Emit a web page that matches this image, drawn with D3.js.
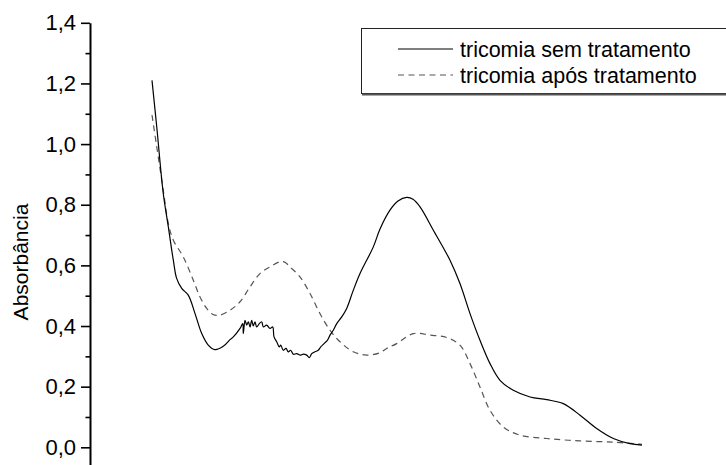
<!DOCTYPE html>
<html>
<head>
<meta charset="utf-8">
<script src="https://cdn.jsdelivr.net/npm/d3@7/dist/d3.min.js"></script>
<style>
  html, body { margin: 0; padding: 0; background: #fff; }
  svg { display: block; font-family: "Liberation Sans", Arial, sans-serif; }
</style>
</head>
<body>
<svg id="chart" width="726" height="465"></svg>
<script>
// Wavelength (nm) and absorbance for the untreated trichome extract
const untreatedNm = [200, 205.8, 213.8, 220.0, 226.1, 230.2, 236.4, 244.4, 252.7, 260.9, 268.9, 277.1, 287.3, 295.5, 299.6,
  307.8, 311.1, 311.8, 313.9, 316.0, 318.0, 320.0, 322.1, 324.0, 326.1, 328.2, 331.4, 334.3, 336.3, 340.4, 344.5, 347.8,
  349.4, 352.7, 355.9, 357.6, 360.8, 364.1, 366.9, 369.8, 373.0, 377.2, 381.2, 385.3, 389.4, 392.6, 395.6, 399.6, 403.6,
  406.6, 410.6, 414.7, 418.0, 422.0, 426.2, 432.3, 438.4, 446.1, 454.7, 471.0, 479.2, 491.4, 501.2, 511.9, 519.6, 528.2,
  544.5, 564.9, 577.1, 589.4, 601.6, 613.9, 626.1, 642.4, 662.9, 683.3, 703.6, 724.1, 744.5, 764.9, 785.3, 800];
const untreatedAbs = [1.21, 1.057, 0.837, 0.727, 0.617, 0.557, 0.524, 0.502, 0.441, 0.375, 0.337, 0.322, 0.333, 0.355, 0.364,
  0.392, 0.408, 0.375, 0.419, 0.403, 0.414, 0.397, 0.419, 0.400, 0.414, 0.397, 0.408, 0.414, 0.397, 0.403, 0.392, 0.397,
  0.364, 0.348, 0.331, 0.337, 0.320, 0.326, 0.315, 0.320, 0.307, 0.309, 0.304, 0.307, 0.304, 0.296, 0.309, 0.315, 0.320,
  0.331, 0.342, 0.353, 0.370, 0.386, 0.408, 0.430, 0.458, 0.515, 0.573, 0.661, 0.720, 0.782, 0.812, 0.824, 0.818, 0.793,
  0.716, 0.617, 0.540, 0.441, 0.353, 0.276, 0.221, 0.188, 0.166, 0.157, 0.144, 0.106, 0.062, 0.029, 0.012, 0.007];

// Wavelength (nm) and absorbance after treatment
const treatedNm = [200, 205.8, 213.8, 220.0, 226.1, 238.3, 250.6, 258.8, 267.0, 274.7, 283.3, 295.5, 307.8, 320.0, 332.2,
  344.5, 356.7, 362.9, 369.0, 381.2, 393.5, 405.7, 418.0, 430.2, 446.5, 462.9, 479.2, 487.4, 499.6, 520.0, 540.4, 560.9,
  577.1, 589.4, 601.6, 613.9, 630.2, 650.6, 683.3, 724.1, 764.9, 800];
const treatedAbs = [1.096, 0.991, 0.848, 0.738, 0.683, 0.628, 0.551, 0.496, 0.458, 0.438, 0.436, 0.452, 0.480, 0.529, 0.573,
  0.595, 0.612, 0.610, 0.595, 0.562, 0.507, 0.441, 0.386, 0.348, 0.315, 0.304, 0.312, 0.326, 0.342, 0.375, 0.370, 0.362,
  0.337, 0.276, 0.199, 0.122, 0.067, 0.040, 0.029, 0.021, 0.017, 0.010];

const yTicks = [0, 0.2, 0.4, 0.6, 0.8, 1.0, 1.2, 1.4];
const yMinorTicks = [0.1, 0.3, 0.5, 0.7, 0.9, 1.1, 1.3];
const seriesLabels = ["tricomia sem tratamento", "tricomia após tratamento"];
const yTitle = "Absorbância";

const svg = d3.select("#chart");

const x = d3.scaleLinear().domain([200, 800]).range([152, 642]);
const y = d3.scaleLinear().domain([-0.06, 1.4]).range([465.5, 22.8]);
const axisX = 90;

const fmt = v => d3.format(".1f")(v).replace(".", ",");

// Minor ticks
svg.append("g")
  .attr("transform", `translate(${axisX},0)`)
  .call(d3.axisLeft(y).tickValues(yMinorTicks).tickSize(4.5).tickFormat("").tickSizeOuter(0))
  .call(g => g.select(".domain").remove())
  .call(g => g.selectAll("line").attr("stroke", "#000").attr("stroke-width", 1.6));

// Major ticks, labels and axis line
svg.append("g")
  .attr("transform", `translate(${axisX},0)`)
  .call(d3.axisLeft(y).tickValues(yTicks).tickSize(9).tickPadding(5).tickFormat(fmt).tickSizeOuter(0))
  .call(g => g.select(".domain").attr("stroke", "#000").attr("stroke-width", 2))
  .call(g => g.selectAll("line").attr("stroke", "#000").attr("stroke-width", 1.6))
  .call(g => g.selectAll("text")
    .attr("fill", "#000")
    .style("font-family", "'Liberation Sans', Arial, sans-serif")
    .style("font-size", "22px"));

svg.append("text")
  .attr("transform", "translate(28,262) rotate(-90)")
  .attr("text-anchor", "middle")
  .style("font-size", "21px")
  .attr("fill", "#000")
  .text(yTitle);

const line = d3.line()
  .x(d => x(d[0]))
  .y(d => y(d[1]))
  .curve(d3.curveCatmullRom.alpha(0.5));

svg.append("path")
  .datum(treatedNm.map((v, i) => [v, treatedAbs[i]]))
  .attr("d", line)
  .attr("fill", "none")
  .attr("stroke", "#555")
  .attr("stroke-width", 1.2)
  .attr("stroke-dasharray", "6,4.5");

svg.append("path")
  .datum(untreatedNm.map((v, i) => [v, untreatedAbs[i]]))
  .attr("d", line)
  .attr("fill", "none")
  .attr("stroke", "#000")
  .attr("stroke-width", 1.2);

// Legend
const legend = svg.append("g");
legend.append("rect")
  .attr("x", 361.5).attr("y", 28.5).attr("width", 370).attr("height", 65)
  .attr("fill", "#fff").attr("stroke", "#222").attr("stroke-width", 1);
legend.append("line")
  .attr("x1", 362).attr("x2", 726).attr("y1", 94.5).attr("y2", 94.5)
  .attr("stroke", "#555").attr("stroke-width", 2);

const legendRows = [
  { label: seriesLabels[0], dash: null, color: "#000", y: 49 },
  { label: seriesLabels[1], dash: "6,4.5", color: "#555", y: 75 }
];
legendRows.forEach(r => {
  legend.append("line")
    .attr("x1", 398).attr("x2", 453).attr("y1", r.y).attr("y2", r.y)
    .attr("stroke", r.color).attr("stroke-width", 1.2)
    .attr("stroke-dasharray", r.dash);
  legend.append("text")
    .attr("x", 460).attr("y", r.y + 7.5)
    .style("font-size", "21.5px")
    .attr("fill", "#000")
    .text(r.label);
});
</script>
</body>
</html>
